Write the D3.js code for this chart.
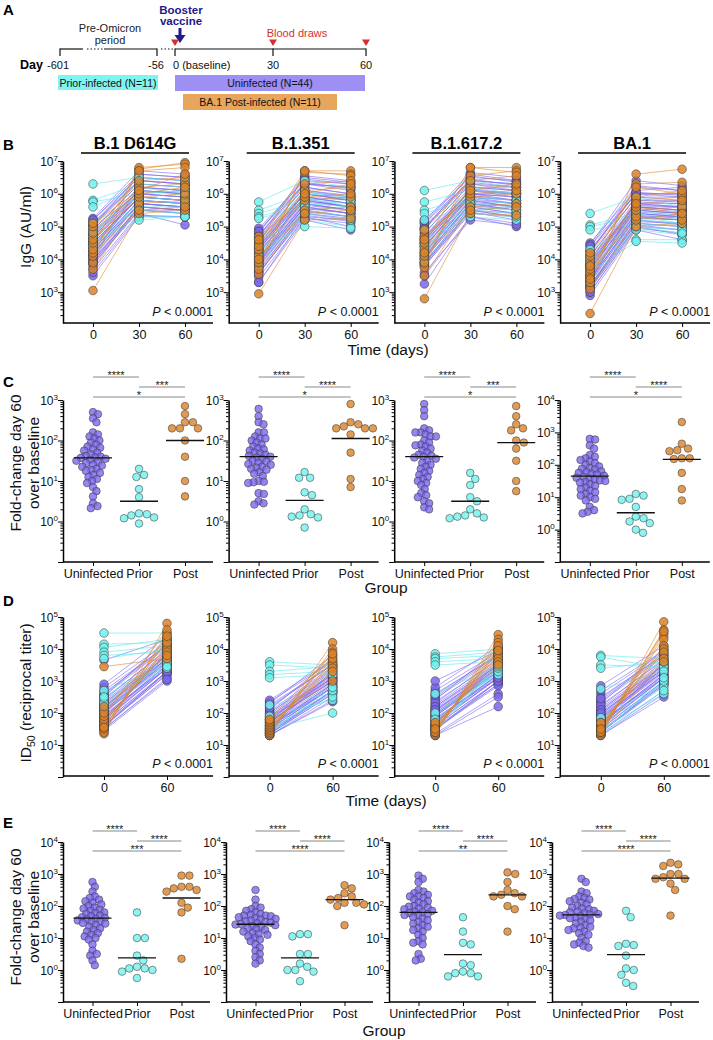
<!DOCTYPE html>
<html><head><meta charset="utf-8">
<script src="https://cdn.jsdelivr.net/npm/d3@7"></script>
<style>body{margin:0;background:#fff}svg{display:block;font-family:"Liberation Sans",Arial,Helvetica,sans-serif}</style>
</head><body><svg id="c" width="713" height="1040"></svg>
<script>
// ===== DATA (log10 values) =====
const variants = ["B.1 D614G","B.1.351","B.1.617.2","BA.1"];
const groups = ["Uninfected","Prior","Post"];
const iggDays = [0,30,60];
const id50Days = [0,60];

// Panel B: IgG (AU/ml), log10
const iggUninfD0 = [
[4.5,4.2,3.9,4.8,5.1,4.0,4.6,4.3,3.7,5.2,4.4,4.1,3.8,4.9,4.7,5.0,3.5,4.3,4.6,4.2,5.25,4.0,3.9,4.4,4.8,5.1,4.5,3.85,4.25,4.7,5.0,4.1,3.6,4.55,4.35,4.9,5.2,4.15,3.95,4.65,4.45,5.05,4.05,4.75],
[4.2,3.9,3.6,4.5,4.9,3.8,4.3,4.0,3.3,4.95,4.1,3.85,3.55,4.6,4.4,4.7,3.45,4.0,4.3,3.95,4.8,3.7,3.65,4.15,4.5,4.75,4.25,3.6,3.95,4.4,4.65,3.8,3.3,4.3,4.05,4.55,4.85,3.9,3.75,4.35,4.2,4.7,3.85,4.45],
[4.4,4.1,3.8,4.7,5.1,3.9,4.5,4.2,3.25,5.2,4.3,4.0,3.85,4.8,4.6,4.9,3.5,4.2,4.5,4.1,5.15,3.9,3.85,4.35,4.7,5.0,4.45,3.8,4.15,4.6,4.95,4.0,3.6,4.5,4.25,4.8,5.1,4.05,3.9,4.55,4.4,4.95,4.0,4.65],
[3.7,3.4,3.1,4.0,4.4,3.2,3.8,3.5,2.9,4.5,3.6,3.3,3.15,4.1,3.9,4.2,3.0,3.5,3.8,3.4,4.45,3.2,3.15,3.65,4.0,4.3,3.75,3.1,3.45,3.9,4.25,3.3,3.0,3.8,3.55,4.1,4.4,3.35,3.2,3.85,3.7,4.25,3.3,3.95]];
const iggUninfD30 = [
[5.9,5.7,5.5,6.1,6.4,5.6,6.0,5.8,5.4,6.5,5.9,6.2,5.6,6.3,6.0,6.6,5.3,5.8,6.1,5.7,6.7,5.5,5.6,6.0,6.2,6.5,5.9,5.5,5.8,6.1,6.4,5.7,5.35,6.0,5.9,6.3,6.6,5.8,5.6,6.2,5.9,6.4,5.7,6.1],
[5.8,5.6,5.3,6.0,6.3,5.5,5.9,5.7,5.2,6.4,5.8,6.1,5.4,6.2,5.9,6.5,5.25,5.7,6.0,5.6,6.55,5.4,5.45,5.9,6.1,6.3,5.8,5.35,5.7,6.0,6.3,5.55,5.3,5.9,5.75,6.2,6.45,5.65,5.5,6.05,5.85,6.35,5.6,6.0],
[5.9,5.7,5.4,6.1,6.4,5.6,6.0,5.8,5.3,6.5,5.9,6.2,5.5,6.3,6.0,6.6,5.3,5.8,6.1,5.7,6.65,5.5,5.5,6.0,6.2,6.4,5.9,5.45,5.8,6.1,6.35,5.65,5.2,6.0,5.85,6.3,6.55,5.75,5.6,6.15,5.95,6.45,5.7,6.1],
[5.5,5.3,5.0,5.7,6.0,5.2,5.6,5.4,4.9,6.1,5.5,5.8,5.1,5.9,5.6,6.2,4.95,5.4,5.7,5.3,6.4,5.1,5.15,5.6,5.8,6.0,5.5,5.05,5.4,5.7,6.0,5.25,5.0,5.6,5.45,5.9,6.25,5.35,5.2,5.75,5.55,6.05,5.3,5.65]];
const iggUninfD60 = [
[5.8,5.6,5.5,6.0,6.3,5.5,6.1,5.7,5.05,6.4,5.8,6.1,5.5,6.2,5.9,6.5,5.3,5.7,6.0,5.6,6.6,5.4,5.5,5.9,6.1,6.4,5.8,5.4,5.7,6.0,6.3,5.6,5.3,5.9,5.8,6.2,6.5,5.7,5.5,6.1,5.8,6.3,5.6,6.0],
[5.6,5.4,5.2,5.85,6.2,5.3,5.8,5.5,4.9,6.3,5.6,5.9,5.2,6.0,5.7,6.35,5.1,5.5,5.8,5.4,6.4,5.25,5.3,5.7,5.95,6.2,5.6,5.15,5.5,5.8,6.1,5.4,5.0,5.7,5.6,6.0,6.3,5.5,5.3,5.9,5.6,6.15,5.4,5.8],
[5.8,5.6,5.3,6.0,6.3,5.4,6.0,5.7,5.0,6.4,5.8,6.1,5.3,6.2,5.9,6.4,5.1,5.6,6.0,5.5,6.5,5.3,5.4,5.8,6.1,6.3,5.7,5.2,5.6,6.0,6.2,5.5,5.05,5.9,5.7,6.1,6.35,5.6,5.4,6.0,5.8,6.25,5.5,5.9],
[5.4,5.3,4.9,5.7,6.0,5.1,5.6,5.3,4.6,6.2,5.4,5.8,5.0,5.9,5.5,6.1,4.8,5.3,5.6,5.2,6.25,5.0,5.1,5.5,5.75,6.0,5.4,4.9,5.3,5.6,5.9,5.2,4.75,5.5,5.35,5.8,6.1,5.25,5.05,5.7,5.45,5.95,5.2,5.6]];
const iggPriorD0 = [
[6.3,5.8,5.75,5.6,5.1,4.95,4.7,4.5,4.4,4.2,4.85],
[5.75,5.5,5.4,5.3,5.25,4.6,4.3,4.0,3.8,4.5,4.15],
[6.1,5.75,5.5,5.4,5.2,4.9,4.6,4.4,4.2,4.0,3.9],
[5.4,5.05,5.0,4.9,4.3,4.1,4.0,3.8,3.6,3.5,3.3]];
const iggPriorD30 = [
[6.5,6.3,6.0,6.2,5.9,5.6,5.5,5.3,5.2,5.8,6.1],
[6.4,6.0,5.8,5.7,5.6,5.2,5.0,5.5,5.4,6.1,5.9],
[6.4,6.1,5.9,5.8,5.6,5.5,5.3,5.4,5.7,6.2,5.6],
[5.9,5.4,5.3,5.1,5.0,4.9,4.6,5.2,4.55,5.5,5.0]];
const iggPriorD60 = [
[6.4,6.2,6.1,6.0,5.8,5.6,5.4,5.3,5.3,5.7,5.95],
[6.2,5.9,5.7,5.6,5.5,5.0,4.95,5.3,5.2,5.8,5.6],
[6.2,6.0,5.8,5.7,5.5,5.4,5.2,5.3,5.6,6.0,5.5],
[5.6,5.2,5.1,5.0,4.9,4.75,4.6,5.1,4.5,5.3,4.8]];
const iggPostD0 = [
[3.05,3.7,3.9,4.1,4.2,4.3,4.5,4.6,4.8,5.0,5.1],
[2.95,3.55,3.7,3.9,4.1,4.3,4.5,4.7,4.4,4.0,4.6],
[2.8,3.5,3.75,3.9,4.1,4.3,4.5,4.7,4.9,4.2,4.6],
[2.35,3.1,3.3,3.5,3.6,3.7,3.9,4.1,4.2,3.4,3.8]];
const iggPostD30 = [
[5.4,5.7,6.75,6.8,5.5,6.2,6.7,5.9,6.4,6.0,6.1],
[5.2,5.5,6.7,6.65,5.4,6.1,6.7,5.8,6.3,5.9,6.0],
[5.4,5.6,6.8,6.55,5.5,6.2,6.8,5.9,6.4,6.0,6.1],
[5.0,5.2,6.6,6.3,5.3,5.8,6.2,5.5,5.9,5.6,5.7]];
const iggPostD60 = [
[5.5,5.8,6.95,6.9,5.6,6.3,6.8,6.0,6.5,6.2,6.6],
[5.25,5.6,6.7,6.6,5.5,6.2,6.55,5.9,6.4,6.0,6.3],
[5.35,5.7,6.8,6.7,5.6,6.2,6.65,6.0,6.55,6.1,6.3],
[5.1,5.4,6.75,6.35,5.2,5.9,6.0,5.6,6.1,5.4,5.8]];

// Panel C: IgG fold-change day 60 over baseline, log10
const foldIggUninf = [
[2.7,2.65,2.55,2.45,2.2,2.15,2.1,2.05,2.0,1.95,1.9,1.85,1.82,1.78,1.75,1.7,1.66,1.62,1.6,1.58,1.57,1.55,1.52,1.5,1.47,1.44,1.4,1.38,1.35,1.3,1.27,1.25,1.2,1.15,1.1,1.05,1.0,0.95,0.85,0.75,0.62,0.45,0.38,0.33],
[2.78,2.6,2.45,2.4,2.2,2.2,2.1,2.05,2.05,2.0,1.95,1.9,1.85,1.8,1.78,1.75,1.7,1.68,1.65,1.62,1.6,1.58,1.55,1.5,1.48,1.45,1.42,1.4,1.35,1.33,1.3,1.28,1.22,1.18,1.0,0.98,0.97,0.95,0.7,0.68,0.5,0.45,0.42,1.12],
[2.9,2.75,2.6,2.3,2.25,2.2,2.2,2.15,2.1,2.1,2.0,1.95,1.9,1.88,1.85,1.8,1.75,1.7,1.65,1.62,1.6,1.58,1.55,1.5,1.45,1.4,1.35,1.3,1.25,1.2,1.15,1.1,1.05,1.0,0.95,0.9,0.8,0.7,0.65,0.6,0.5,0.45,0.35,0.3],
[2.8,2.78,2.6,2.5,2.3,2.25,2.2,2.15,2.1,2.05,2.0,1.95,1.9,1.88,1.85,1.8,1.77,1.75,1.72,1.7,1.66,1.63,1.6,1.57,1.55,1.52,1.5,1.47,1.45,1.4,1.35,1.3,1.25,1.2,1.15,1.1,1.05,1.0,0.95,0.9,0.7,0.6,0.55,0.5]];
const foldIggPrior = [
[1.3,1.15,1.1,0.8,0.6,0.2,0.18,0.15,0.1,0.08,-0.05],
[1.22,1.08,1.08,0.72,0.65,0.15,0.12,0.18,0.3,0.1,-0.15],
[1.2,1.05,0.9,0.6,0.5,0.3,0.15,0.12,0.1,0.08,0.2],
[1.1,1.05,0.95,0.92,0.7,0.4,0.35,0.25,0.2,0.0,-0.1]];
const foldIggPost = [
[2.85,2.65,2.45,2.45,2.3,2.3,2.0,1.6,1.0,0.62,2.3],
[2.9,2.45,2.35,2.3,2.3,2.4,2.15,1.7,1.05,0.85,2.3],
[2.85,2.6,2.4,2.25,2.0,1.95,1.8,1.5,1.0,0.75,2.3],
[3.32,2.65,2.5,2.42,2.45,2.2,2.2,2.18,1.75,1.25,0.9]];
const foldIggCentre = [[1.57,0.5,2.0],[1.6,0.52,2.05],[1.6,0.5,1.95],[1.65,0.52,2.17]];
const foldIggTop = [3,3,3,4];
const foldIggStars = [["****","***","*"],["****","****","*"],["****","***","*"],["****","****","*"]];

// Panel D: ID50 (reciprocal titer), log10
const idUninfD0 = [
[2.0,1.8,1.6,2.3,2.6,1.7,2.1,1.9,1.45,2.8,2.05,1.75,1.55,2.4,2.2,2.5,1.5,1.85,2.15,1.95,2.9,1.65,1.6,2.0,2.35,2.7,2.1,1.6,1.9,2.25,2.55,1.75,1.5,2.15,2.0,2.45,3.65,1.85,1.7,2.3,2.05,2.6,1.8,2.2],
[1.7,1.5,1.35,1.9,2.2,1.45,1.8,1.6,1.3,2.35,1.75,1.5,1.4,2.0,1.85,2.1,1.3,1.55,1.8,1.6,2.3,1.4,1.35,1.7,1.95,2.25,1.75,1.35,1.6,1.85,2.05,1.5,1.3,1.75,1.65,2.0,2.4,1.55,1.45,1.9,1.7,2.15,1.5,1.8],
[1.9,1.7,1.5,2.2,2.5,1.6,2.0,1.8,1.3,2.7,1.95,1.65,1.45,2.3,2.1,2.4,1.35,1.75,2.05,1.85,2.8,1.55,1.5,1.9,2.25,2.6,2.0,1.5,1.8,2.15,2.45,1.65,1.3,2.05,1.9,2.35,3.0,1.75,1.6,2.2,1.95,2.55,1.7,2.1],
[1.8,1.6,1.4,2.1,2.4,1.5,1.9,1.7,1.3,2.6,1.85,1.55,1.4,2.2,2.0,2.3,1.35,1.65,1.95,1.75,2.85,1.45,1.4,1.8,2.15,2.5,1.9,1.4,1.7,2.05,2.35,1.55,1.3,1.95,1.8,2.25,2.7,1.65,1.5,2.1,1.85,2.45,1.6,2.0]];
const idUninfD60 = [
[3.6,3.4,3.2,3.8,4.1,3.3,3.7,3.5,3.0,4.2,3.6,3.9,3.3,4.0,3.7,4.3,3.1,3.5,3.8,3.4,4.4,3.25,3.3,3.7,3.9,4.1,3.6,3.2,3.5,3.8,4.05,3.4,3.05,3.7,3.55,3.95,4.3,3.45,3.3,3.85,3.65,4.15,3.4,3.75],
[3.0,2.8,2.6,3.2,3.5,2.7,3.1,2.9,2.35,3.6,3.0,3.3,2.7,3.4,3.1,3.7,2.5,2.9,3.2,2.8,3.8,2.65,2.7,3.1,3.3,3.5,3.0,2.6,2.9,3.2,3.45,2.8,2.4,3.1,2.95,3.35,3.65,2.85,2.7,3.25,3.05,3.55,2.8,3.15],
[3.3,3.1,2.9,3.5,3.8,3.0,3.4,3.2,2.2,3.9,3.3,3.6,3.0,3.7,3.4,4.0,2.6,3.2,3.5,3.1,4.1,2.9,3.0,3.4,3.6,3.8,3.3,2.85,3.2,3.5,3.75,3.1,2.5,3.4,3.25,3.65,3.95,3.15,3.0,3.55,3.35,3.85,3.1,3.45],
[3.3,3.1,2.9,3.5,3.8,3.0,3.4,3.2,2.5,3.9,3.3,3.6,2.95,3.7,3.4,4.0,2.7,3.2,3.5,3.1,4.1,2.9,3.0,3.4,3.6,3.8,3.3,2.85,3.2,3.5,3.75,3.1,2.6,3.4,3.25,3.65,3.95,3.15,3.0,3.55,3.35,3.85,3.1,3.45]];
const idPriorD0 = [
[4.5,4.15,4.05,3.9,3.8,3.7,2.7,2.45,2.3,2.1,2.5],
[3.6,3.5,3.3,3.2,3.1,2.25,1.9,1.6,1.5,1.45,1.4],
[3.85,3.75,3.7,3.6,3.5,2.6,2.0,1.8,1.6,1.5,1.4],
[3.8,3.75,3.5,3.4,2.75,1.85,1.7,1.5,1.4,1.35,1.3]];
const idPriorD60 = [
[4.5,4.2,4.3,4.1,3.9,4.0,3.5,3.4,3.6,3.45,3.7],
[3.5,3.4,3.45,3.3,3.2,2.6,2.4,2.5,2.0,2.7,2.8],
[4.0,3.9,3.8,3.7,3.6,3.5,3.2,3.3,3.4,3.45,3.55],
[3.7,3.4,3.45,3.6,3.3,2.9,2.8,2.6,3.0,3.1,2.7]];
const idPostD0 = [
[1.35,1.4,1.5,1.6,1.7,1.8,1.9,2.0,3.45,2.2,1.55],
[1.3,1.35,1.4,1.45,1.5,1.55,1.6,1.65,1.7,1.75,1.8],
[1.3,1.35,1.4,1.45,1.5,1.55,1.6,1.65,1.7,1.4,1.5],
[1.3,1.35,1.4,1.45,1.5,1.55,1.6,1.65,1.7,1.4,1.5]];
const idPostD60 = [
[4.8,4.5,4.3,4.1,4.0,3.9,4.6,4.2,3.7,3.8,4.4],
[4.2,4.0,3.9,3.8,3.6,3.5,3.4,3.3,3.7,3.0,3.85],
[4.45,4.3,4.2,4.0,3.9,3.8,3.7,3.6,3.5,4.1,3.95],
[4.85,4.6,4.5,4.4,4.3,4.1,4.0,3.9,3.7,3.6,4.55]];

// Panel E: ID50 fold-change day 60 over baseline, log10
const foldIdUninf = [
[2.75,2.6,2.45,2.3,2.25,2.2,2.15,2.1,2.05,2.0,1.95,1.92,1.88,1.85,1.8,1.78,1.75,1.7,1.68,1.65,1.63,1.6,1.58,1.55,1.52,1.5,1.47,1.45,1.4,1.35,1.3,1.25,1.2,1.1,1.05,1.0,0.95,0.8,0.6,0.5,0.45,0.3,0.15,1.15],
[2.5,2.2,2.0,1.95,1.9,1.85,1.8,1.75,1.72,1.7,1.7,1.68,1.65,1.62,1.6,1.58,1.55,1.52,1.5,1.48,1.46,1.44,1.42,1.4,1.38,1.35,1.3,1.25,1.2,1.15,1.12,1.1,1.05,1.0,0.95,0.9,0.8,0.7,0.6,0.5,0.4,0.3,0.2,1.27],
[2.95,2.85,2.75,2.5,2.45,2.4,2.35,2.3,2.3,2.25,2.2,2.15,2.1,2.05,2.0,1.98,1.95,1.92,1.9,1.85,1.82,1.8,1.78,1.75,1.72,1.7,1.65,1.6,1.55,1.5,1.45,1.4,1.35,1.3,1.2,1.1,1.0,0.9,0.85,0.8,0.5,0.35,0.3,1.25],
[2.85,2.75,2.45,2.4,2.3,2.25,2.22,2.2,2.15,2.1,2.05,2.0,1.95,1.92,1.9,1.85,1.82,1.8,1.78,1.75,1.73,1.72,1.7,1.68,1.65,1.62,1.6,1.55,1.5,1.45,1.4,1.35,1.3,1.25,1.2,1.15,1.1,1.0,0.9,0.85,0.8,0.75,0.7,1.32]];
const foldIdPrior = [
[1.8,1.0,1.0,0.45,0.3,0.05,0.0,0.05,-0.05,-0.25,0.1],
[1.05,1.12,1.12,0.5,0.5,0.2,0.1,-0.05,-0.35,0.0,0.0],
[1.65,1.2,0.85,0.8,0.2,0.15,-0.1,-0.2,-0.1,-0.05,-0.2],
[1.85,1.65,0.78,0.75,0.82,0.45,0.05,0.0,-0.15,-0.4,-0.5]];
const foldIdPost = [
[2.95,2.95,2.6,2.55,2.5,2.45,2.6,2.1,1.95,1.8,0.35],
[2.65,2.55,2.4,2.25,2.2,2.1,2.05,2.0,2.1,1.4,2.3],
[3.0,3.05,2.75,2.5,2.4,2.3,2.35,2.3,2.0,1.9,1.2],
[3.35,3.3,3.25,3.0,3.0,2.9,2.85,2.85,2.7,2.5,1.7]];
const foldIdCentre = [[1.62,0.38,2.25],[1.43,0.38,2.2],[1.8,0.48,2.35],[1.72,0.48,2.87]];
const foldIdStars = [["****","****","***"],["****","****","****"],["****","****","**"],["****","****","****"]];

// Panel A timeline
const timelineDays = ["-601","-56","0 (baseline)","30","60"];
const cohortLabels = ["Prior-infected (N=11)","Uninfected (N=44)","BA.1 Post-infected (N=11)"];

// ===== DRAWING =====
const svg = d3.select("#c");
const FILL = {Uninfected:"#7a68ee", Prior:"#70f2ee", Post:"#da8228"};
const LINE = {Uninfected:"#7a68ee", Prior:"#5eeaea", Post:"#e0862c"};
const P = v => Math.pow(10, v);

function letter(t, x, y){ svg.append("text").attr("x",x).attr("y",y).attr("font-size",15).attr("font-weight","bold").text(t); }

function logAxis(g, y, x0, lo, hi){
  const ticks = [];
  for (let e = Math.floor(lo); e < hi; e++) for (let m = 1; m < 10; m++){
    const v = m*Math.pow(10,e); const lv = Math.log10(v);
    if (lv >= lo-1e-9 && lv <= hi+1e-9) ticks.push(v);
  }
  ticks.push(P(hi));
  const ax = g.append("g").attr("transform",`translate(${x0},0)`)
    .call(d3.axisLeft(y).tickValues(ticks).tickFormat("").tickSize(5).tickSizeOuter(0));
  ax.select(".domain").attr("stroke","#000").attr("stroke-width",1.5);
  ax.selectAll(".tick line").attr("stroke","#000").attr("stroke-width",1)
    .attr("x2", d => Math.abs(Math.log10(d) - Math.round(Math.log10(d))) < 1e-6 ? -5 : -2.6);
  for (let e = Math.floor(lo)+1; e <= hi; e++){
    const t = g.append("text").attr("x",x0-5).attr("y",y(P(e))+4.5).attr("text-anchor","end").attr("font-size",12).attr("fill","#111");
    t.append("tspan").text("10");
    t.append("tspan").attr("dy",-5).attr("font-size",8).text(e);
  }
}
function xAxis(g, x, x0, yb, w){
  const ax = g.append("g").attr("transform",`translate(0,${yb})`).call(d3.axisBottom(x).tickSize(4).tickSizeOuter(0));
  ax.select(".domain").remove();
  ax.selectAll(".tick line").attr("stroke","#000").attr("stroke-width",1);
  ax.selectAll(".tick text").attr("font-size",12.5).attr("fill","#111").attr("font-family","Liberation Sans, Arial, sans-serif");
  g.append("line").attr("x1",x0).attr("x2",x0+w).attr("y1",yb).attr("y2",yb).attr("stroke","#000").attr("stroke-width",1.5);
}
function yTitle(lines, cx, cy){
  lines.forEach((l,i)=>{
    const t = svg.append("text").attr("transform",`translate(${cx[i]},${cy}) rotate(-90)`).attr("text-anchor","middle").attr("font-size",15.5).attr("fill","#111");
    if (typeof l === "string") t.text(l);
    else l(t);
  });
}
function swarm(vals, y, r){
  const D = vals.length > 20 ? 1.4*r : 2*r + 0.3;
  const pts = vals.map(v=>({v, y:y(P(v))})).sort((a,b)=>a.y-b.y);
  const placed = [];
  for (const p of pts){
    const c = [0];
    for (const q of placed){ const dy = Math.abs(q.y-p.y); if (dy < D){ const dx = Math.sqrt(D*D-dy*dy); c.push(q.dx+dx, q.dx-dx); } }
    c.sort((a,b)=>Math.abs(a)-Math.abs(b));
    for (const cc of c){ if (placed.every(q=>(q.dx-cc)**2+(q.y-p.y)**2 >= D*D-0.01)){ p.dx = cc; break; } }
    placed.push(p);
  }
  return placed;
}

// ---- Panel A ----
letter("A", 3, 15);
(function(){
  const g = svg.append("g");
  const navy = "#22198a", red = "#d62f2f";
  g.append("text").attr("x",110).attr("y",32).attr("text-anchor","middle").attr("font-size",11).attr("fill","#222").text("Pre-Omicron");
  g.append("text").attr("x",110).attr("y",44).attr("text-anchor","middle").attr("font-size",11).attr("fill","#222").text("period");
  g.append("text").attr("x",181).attr("y",14).attr("text-anchor","middle").attr("font-size",11.5).attr("font-weight","bold").attr("fill",navy).text("Booster");
  g.append("text").attr("x",181).attr("y",25).attr("text-anchor","middle").attr("font-size",11.5).attr("font-weight","bold").attr("fill",navy).text("vaccine");
  g.append("line").attr("x1",180).attr("x2",180).attr("y1",28).attr("y2",37).attr("stroke",navy).attr("stroke-width",3);
  g.append("path").attr("d","M174.5,35 L185.5,35 L180,43 Z").attr("fill",navy);
  g.append("text").attr("x",297).attr("y",37).attr("text-anchor","middle").attr("font-size",11).attr("fill",red).text("Blood draws");
  const k = "#111";
  const seg = (x1,x2,dash)=>g.append("line").attr("x1",x1).attr("x2",x2).attr("y1",49).attr("y2",49).attr("stroke",k).attr("stroke-width",1.2).attr("stroke-dasharray",dash||null);
  seg(60,83); seg(87,104,"1.5,2"); seg(104,157); seg(161,173,"1.5,2"); seg(175,366);
  [60,157,175,273,366].forEach(x=>g.append("line").attr("x1",x).attr("x2",x).attr("y1",48.5).attr("y2",56).attr("stroke",k).attr("stroke-width",1.2));
  [175,273,366].forEach(x=>g.append("path").attr("d",`M${x-4},39.5 L${x+4},39.5 L${x},46 Z`).attr("fill",red));
  g.append("text").attr("x",20).attr("y",69).attr("font-size",12.5).attr("font-weight","bold").text("Day");
  const dx = [[58,"middle"],[156,"middle"],[173,"start"],[273,"middle"],[366,"middle"]];
  timelineDays.forEach((d,i)=>g.append("text").attr("x",dx[i][0]).attr("y",69).attr("text-anchor",dx[i][1]).attr("font-size",11).attr("fill","#111").text(d));
  const rects = [[58,75,100,15,"#7ff5f2"],[175,75,190,16,"#9d8ff4"],[183,94,154,16,"#e8a65c"]];
  rects.forEach((r,i)=>{
    g.append("rect").attr("x",r[0]).attr("y",r[1]).attr("width",r[2]).attr("height",r[3]).attr("fill",r[4]);
    g.append("text").attr("x",r[0]+r[2]/2).attr("y",r[1]+r[3]/2+4).attr("text-anchor","middle").attr("font-size",10.5).attr("fill","#111").text(cohortLabels[i]);
  });
})();

// ---- Panel B ----
letter("B", 3, 150);
yTitle(["IgG (AU/ml)"], [31], 227);
variants.forEach((vname, i)=>{
  const x0 = 63 + 165.7*i;
  const g = svg.append("g");
  const y = d3.scaleLog().domain([P(2.06), P(7)]).range([323, 161]);
  const x = d3.scaleLinear().domain([0,60]).range([x0+30, x0+122]);
  logAxis(g, y, x0, 2.06, 7);
  xAxis(g, d3.scaleOrdinal().domain(iggDays).range(iggDays.map(d=>x(d))), x0, 323, 150);
  g.append("text").attr("x",x0+72).attr("y",149).attr("text-anchor","middle").attr("font-size",16.5).attr("font-weight","bold").text(vname);
  g.append("line").attr("x1",x0+18).attr("x2",x0+126).attr("y1",153).attr("y2",153).attr("stroke","#000").attr("stroke-width",1.4);
  const sets = [
    ["Uninfected", iggUninfD0[i], iggUninfD30[i], iggUninfD60[i]],
    ["Prior", iggPriorD0[i], iggPriorD30[i], iggPriorD60[i]],
    ["Post", iggPostD0[i], iggPostD30[i], iggPostD60[i]]];
  const line = d3.line().x(d=>x(d[0])).y(d=>y(P(d[1])));
  sets.forEach(([gr,a,b,c])=>{
    a.forEach((v,j)=>g.append("path").attr("d",line([[0,v],[30,b[j]],[60,c[j]]])).attr("fill","none").attr("stroke",LINE[gr]).attr("stroke-width",0.8).attr("stroke-opacity",0.75));
  });
  sets.forEach(([gr,a,b,c])=>{
    [[0,a],[30,b],[60,c]].forEach(([d,arr])=>arr.forEach(v=>g.append("circle").attr("cx",x(d)).attr("cy",y(P(v))).attr("r",4.3)
      .attr("fill",FILL[gr]).attr("fill-opacity",0.85).attr("stroke","#3a3a3a").attr("stroke-width",0.55)));
  });
  const t = g.append("text").attr("x",x0+150).attr("y",316).attr("text-anchor","end").attr("font-size",12.5).attr("fill","#111");
  t.append("tspan").attr("font-style","italic").text("P");
  t.append("tspan").text(" < 0.0001");
});
svg.append("text").attr("x",388).attr("y",355).attr("text-anchor","middle").attr("font-size",15.5).attr("fill","#111").text("Time (days)");

// ---- dot-plot helper (C and E) ----
function dotPanel(x0, x, y, lo, hi, ybot, w, lists, centres, stars, lineYs){
  const g = svg.append("g");
  logAxis(g, y, x0, lo, hi);
  xAxis(g, x, x0, ybot, w);
  groups.forEach((gr,k)=>{
    const cx = x(gr);
    swarm(lists[k], y, 3.8).forEach(p=>g.append("circle").attr("cx",cx+p.dx).attr("cy",p.y).attr("r",3.8)
      .attr("fill",FILL[gr]).attr("fill-opacity",0.8).attr("stroke","#3a3a3a").attr("stroke-width",0.55));
  });
  groups.forEach((gr,k)=>{
    const cx = x(gr), cy = y(P(centres[k]));
    g.append("line").attr("x1",cx-19).attr("x2",cx+19).attr("y1",cy).attr("y2",cy).attr("stroke","#111").attr("stroke-width",1.3);
  });
  const pairs = [[0,1],[1,2],[0,2]];
  pairs.forEach(([a,b],k)=>{
    const xa = x(groups[a]), xb = x(groups[b]), ly = lineYs[k];
    g.append("line").attr("x1",xa).attr("x2",xb).attr("y1",ly).attr("y2",ly).attr("stroke","#8a8a8a").attr("stroke-width",1.1);
    g.append("text").attr("x",(xa+xb)/2).attr("y",ly+1.8).attr("text-anchor","middle").attr("font-size",11).attr("fill","#222").text(stars[k]);
  });
}

// ---- Panel C ----
letter("C", 3, 387);
yTitle(["Fold-change day 60","over baseline"], [20.5, 38.5], 463);
variants.forEach((vname,i)=>{
  const x0 = 63 + 165.6*i;
  const hi = foldIggTop[i];
  const y = d3.scaleLog().domain([P(-1), P(hi)]).range([562, 400]);
  const x = d3.scalePoint().domain(groups).range([x0+30, x0+122]);
  dotPanel(x0, x, y, -1, hi, 562, 150, [foldIggUninf[i], foldIggPrior[i], foldIggPost[i]], foldIggCentre[i], foldIggStars[i], [377,387,397]);
});
svg.append("text").attr("x",386).attr("y",593).attr("text-anchor","middle").attr("font-size",15.5).attr("fill","#111").text("Group");

// ---- Panel D ----
letter("D", 3, 606);
yTitle([t=>{ t.append("tspan").text("ID"); t.append("tspan").attr("font-size",10.5).attr("dy",4).text("50"); t.append("tspan").attr("dy",-4).text(" (reciprocal titer)"); }], [30.5], 693);
variants.forEach((vname,i)=>{
  const x0 = 63 + 165.6*i;
  const g = svg.append("g");
  const y = d3.scaleLog().domain([P(0), P(5)]).range([777, 617]);
  const x = d3.scaleLinear().domain([0,60]).range([x0+41, x0+104]);
  logAxis(g, y, x0, 0, 5);
  xAxis(g, d3.scaleOrdinal().domain(id50Days).range(id50Days.map(d=>x(d))), x0, 776, 150);
  const sets = [["Uninfected", idUninfD0[i], idUninfD60[i]],["Prior", idPriorD0[i], idPriorD60[i]],["Post", idPostD0[i], idPostD60[i]]];
  const line = d3.line().x(d=>x(d[0])).y(d=>y(P(d[1])));
  sets.forEach(([gr,a,b])=>a.forEach((v,j)=>g.append("path").attr("d",line([[0,v],[60,b[j]]])).attr("fill","none").attr("stroke",LINE[gr]).attr("stroke-width",0.8).attr("stroke-opacity",0.75)));
  sets.forEach(([gr,a,b])=>[[0,a],[60,b]].forEach(([d,arr])=>arr.forEach(v=>g.append("circle").attr("cx",x(d)).attr("cy",y(P(v))).attr("r",4.3)
    .attr("fill",FILL[gr]).attr("fill-opacity",0.85).attr("stroke","#3a3a3a").attr("stroke-width",0.55))));
  const t = g.append("text").attr("x",x0+150).attr("y",768).attr("text-anchor","end").attr("font-size",12.5).attr("fill","#111");
  t.append("tspan").attr("font-style","italic").text("P");
  t.append("tspan").text(" < 0.0001");
});
svg.append("text").attr("x",386).attr("y",806).attr("text-anchor","middle").attr("font-size",15.5).attr("fill","#111").text("Time (days)");

// ---- Panel E ----
letter("E", 3, 828);
yTitle(["Fold-change day 60","over baseline"], [20.5, 38.5], 917);
variants.forEach((vname,i)=>{
  const x0 = 63 + 163*i;
  const y = d3.scaleLog().domain([P(-1), P(4)]).range([1002, 842]);
  const x = d3.scalePoint().domain(groups).range([x0+29.5, x0+118.5]);
  dotPanel(x0, x, y, -1, 4, 1002, 147, [foldIdUninf[i], foldIdPrior[i], foldIdPost[i]], foldIdCentre[i], foldIdStars[i], [831,841,851]);
});
svg.append("text").attr("x",384).attr("y",1036).attr("text-anchor","middle").attr("font-size",15.5).attr("fill","#111").text("Group");
</script></body></html>
